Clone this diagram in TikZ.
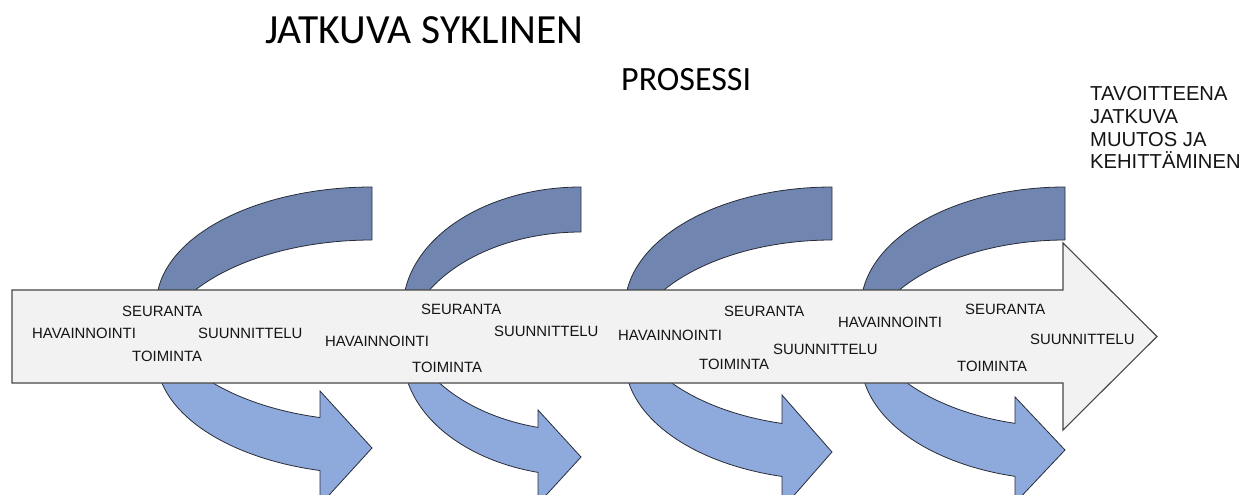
\documentclass[tikz,border=0pt]{standalone}
\usepackage{fontspec}
\setmainfont{Liberation Sans}
\newfontfamily\titlefont{Carlito}
\definecolor{darkband}{RGB}{112,134,176}
\definecolor{lightband}{RGB}{142,169,219}
\definecolor{bandedge}{RGB}{40,44,56}
\definecolor{barfill}{RGB}{242,242,242}
\definecolor{baredge}{RGB}{70,70,70}
\definecolor{txt}{RGB}{20,20,20}
\tikzset{
  backpart/.style={fill=darkband, draw=bandedge, line width=0.8pt, line join=round},
  frontpart/.style={fill=lightband, draw=bandedge, line width=0.8pt, line join=miter},
  barshape/.style={fill=barfill, draw=baredge, line width=1.1pt, line join=miter},
  lbl/.style={font=\fontsize{14.9}{17}\selectfont, anchor=west, inner sep=0pt, text=txt},
  goal/.style={font=\fontsize{20.2}{23}\selectfont, anchor=base west, inner sep=0pt, text=txt},
}
% #1 X right end, #2 top, #3 thickness, #4 W, #5 hR, #6 head length,
% #7 head top, #8 tip y, #9 head bottom
\newcommand\cyclearrow[9]{%
  \pgfmathsetmacro\arcCA{#2+#5}%
  \pgfmathsetmacro\arcCB{#2+#3+#5}%
  \pgfmathsetmacro\arcTE{180-acos(#6/#4)}%
  \pgfmathsetmacro\arcXE{#1-#6}%
  \draw[backpart] plot[domain=270:180, samples=80] ({#1+#4*cos(\x)},{\arcCA+#5*sin(\x)})
     -- plot[domain=180:270, samples=80] ({#1+#4*cos(\x)},{\arcCB+#5*sin(\x)}) -- cycle;
  \draw[frontpart] plot[domain=180:\arcTE, samples=80] ({#1+#4*cos(\x)},{\arcCA+#5*sin(\x)})
     -- (\arcXE,#7) -- (#1,#8) -- (\arcXE,#9)
     -- plot[domain=\arcTE:180, samples=80] ({#1+#4*cos(\x)},{\arcCB+#5*sin(\x)}) -- cycle;
}
\begin{document}
\begin{tikzpicture}[x=1pt,y=-1pt]
\useasboundingbox (0,0) rectangle (1247,495);
\clip (0,0) rectangle (1247,495);

% titles
\node[anchor=base west, inner sep=0pt, text=black, font=\titlefont\fontsize{41.5}{48}\selectfont] (title) at (265,43.3) {JATKUVA SYKLINEN};
\node[anchor=base west, inner sep=0pt, text=black, font=\titlefont\fontsize{34}{40}\selectfont] (subtitle) at (621,90) {PROSESSI};

% goal text
\node[goal] (g1) at (1090,100.7) {TAVOITTEENA};
\node[goal] (g2) at (1090,123.4) {JATKUVA};
\node[goal] (g3) at (1090,146.1) {MUUTOS JA};
\node[goal] (g4) at (1090,168.8) {KEHITTÄMINEN};

% cyclic arrows
\cyclearrow{372}{187}{53}{215.5}{117}{52}{391}{448}{505}
\cyclearrow{581}{187}{45}{178}{122}{43}{410}{457}{504}
\cyclearrow{832}{187}{53}{207}{120}{50}{395}{452}{509}
\cyclearrow{1065}{187}{53}{204}{120}{50}{397}{450}{503}

% main arrow
\draw[barshape] (12,290) -- (1063,290) -- (1063,243) -- (1157,336.5) -- (1063,430) -- (1063,383) -- (12,383) -- cycle;

% group 1
\node[lbl] (s1) at (122,311) {SEURANTA};
\node[lbl] (h1) at (32,333) {HAVAINNOINTI};
\node[lbl] (u1) at (198,333) {SUUNNITTELU};
\node[lbl] (t1) at (132,356) {TOIMINTA};
% group 2
\node[lbl] (s2) at (421,309) {SEURANTA};
\node[lbl] (u2) at (494,331) {SUUNNITTELU};
\node[lbl] (h2) at (325,341) {HAVAINNOINTI};
\node[lbl] (t2) at (412,367) {TOIMINTA};
% group 3
\node[lbl] (s3) at (724,311) {SEURANTA};
\node[lbl] (h3) at (618,335) {HAVAINNOINTI};
\node[lbl] (u3) at (773,349) {SUUNNITTELU};
\node[lbl] (t3) at (699,364) {TOIMINTA};
% group 4
\node[lbl] (h4) at (838,322) {HAVAINNOINTI};
\node[lbl] (s4) at (965,309) {SEURANTA};
\node[lbl] (u4) at (1030,339) {SUUNNITTELU};
\node[lbl] (t4) at (957,366) {TOIMINTA};
\end{tikzpicture}
\end{document}
